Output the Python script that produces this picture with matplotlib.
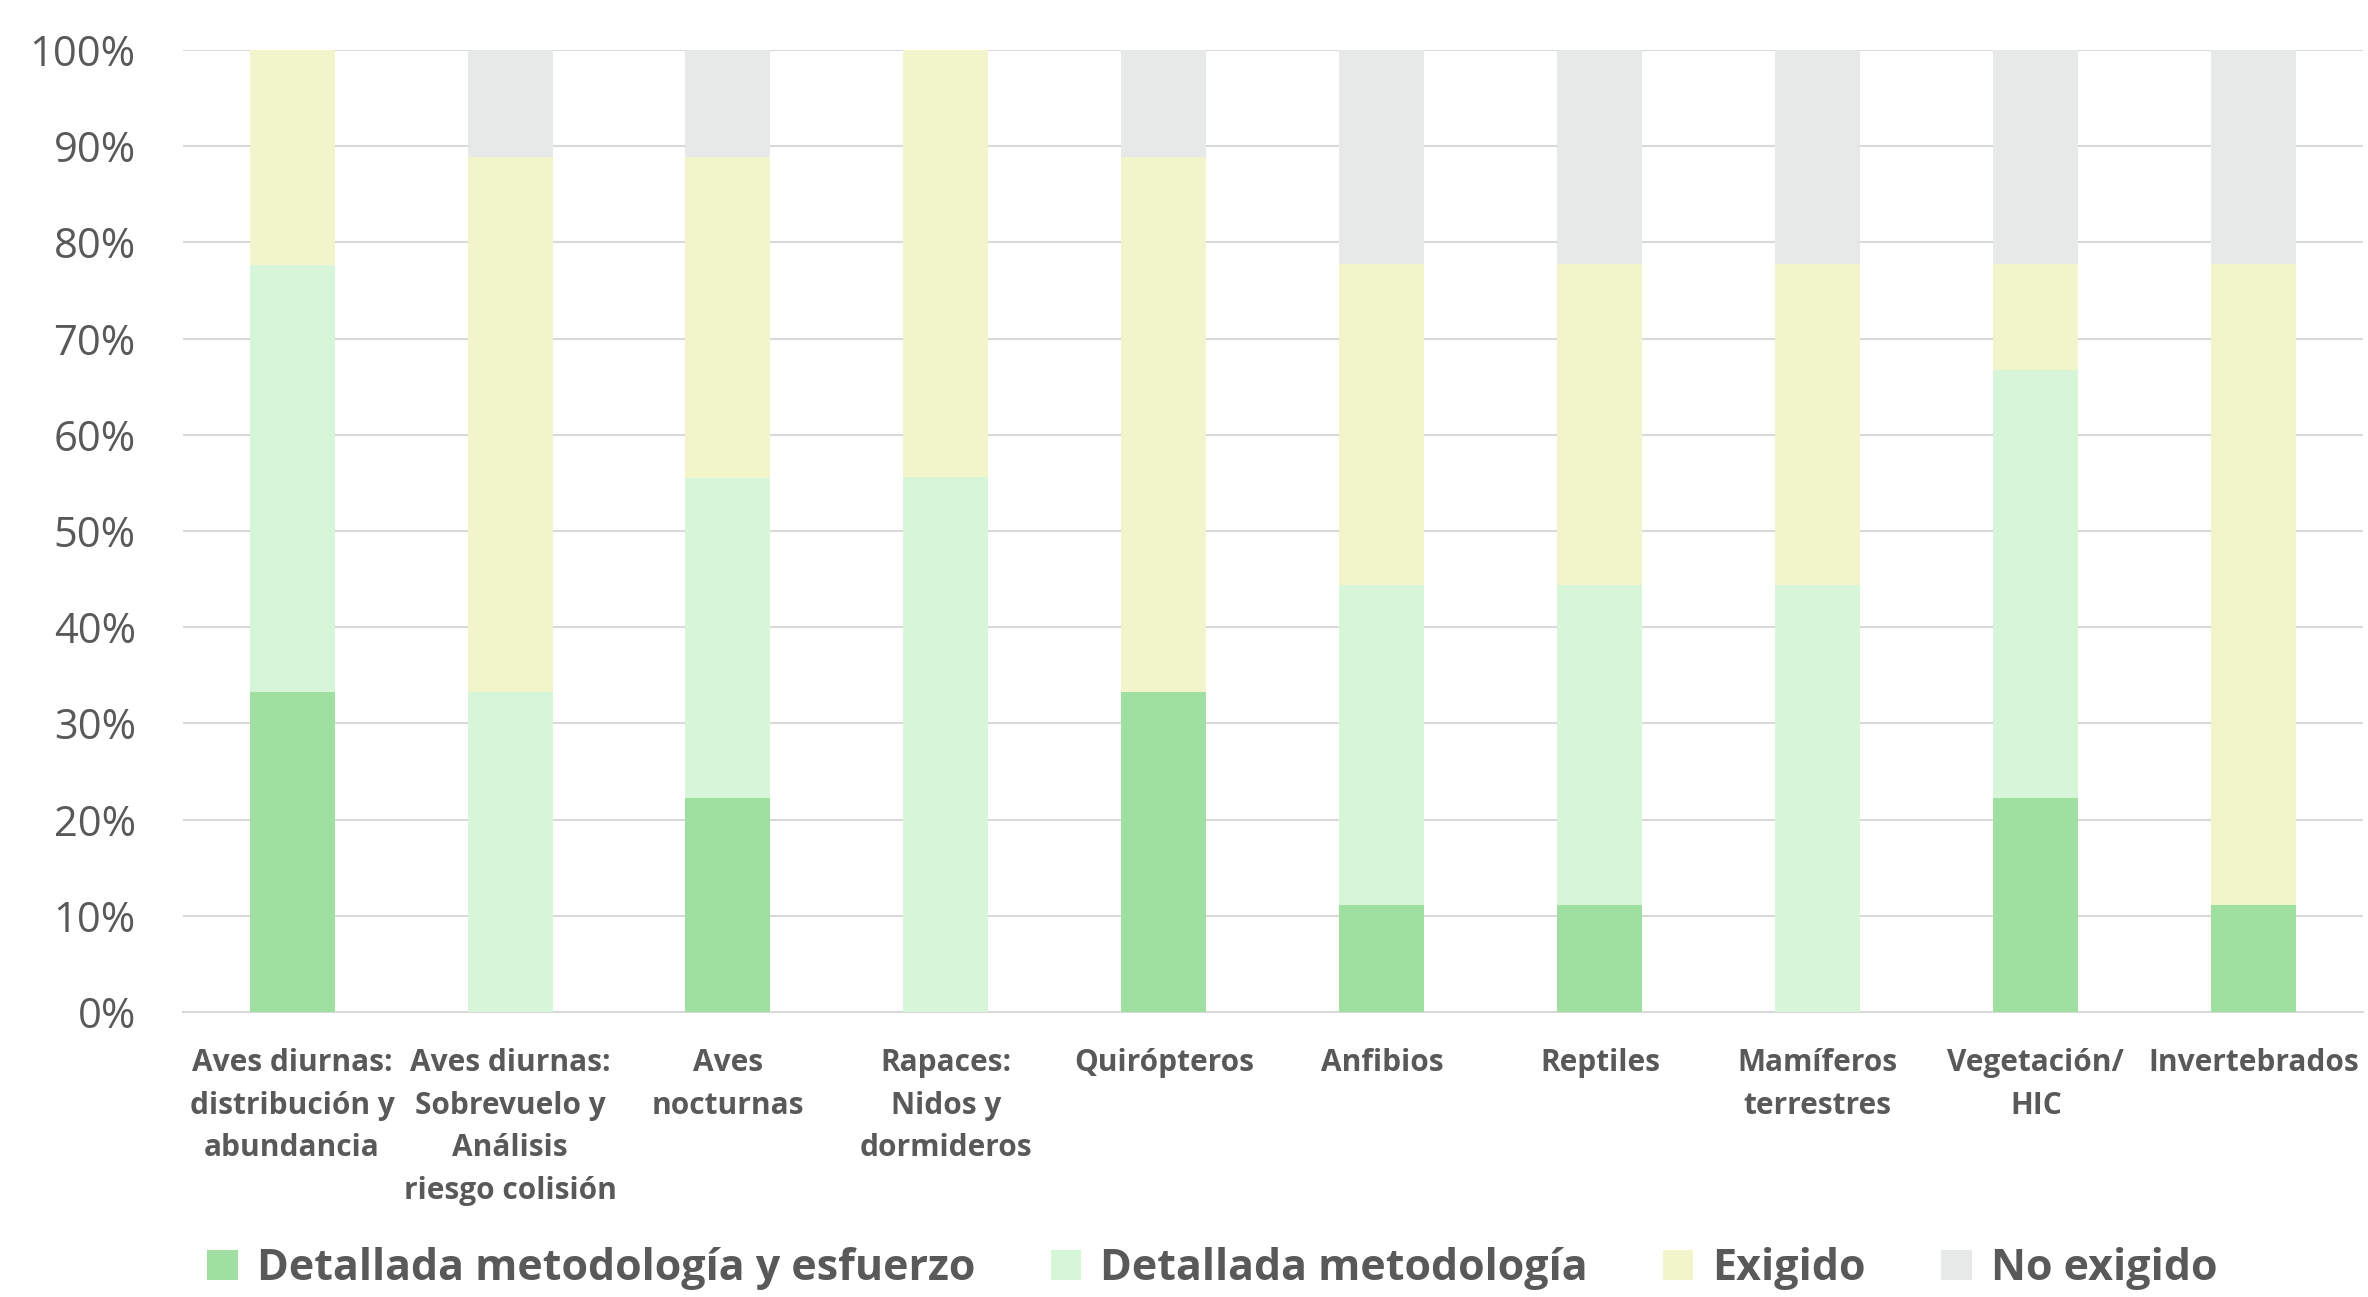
import numpy as np
import matplotlib.pyplot as plt
from matplotlib.patches import Patch

# categories and shares (% of studies)
categories = ["Aves diurnas:\ndistribución y\nabundancia",
              "Aves diurnas:\nSobrevuelo y\nAnálisis\nriesgo colisión",
              "Aves\nnocturnas",
              "Rapaces:\nNidos y\ndormideros",
              "Quirópteros",
              "Anfibios",
              "Reptiles",
              "Mamíferos\nterrestres",
              "Vegetación/\nHIC",
              "Invertebrados"]
detallada_esfuerzo = [33.3, 0.0, 22.2, 0.0, 33.3, 11.1, 11.1, 0.0, 22.2, 11.1]
detallada_metodo   = [44.4, 33.3, 33.3, 55.6, 0.0, 33.3, 33.3, 44.4, 44.5, 0.0]
exigido            = [22.3, 55.6, 33.4, 44.4, 55.6, 33.4, 33.4, 33.4, 11.1, 66.7]
no_exigido         = [0.0, 11.1, 11.1, 0.0, 11.1, 22.2, 22.2, 22.2, 22.2, 22.2]

series_names = ["Detallada metodología y esfuerzo", "Detallada metodología",
                "Exigido", "No exigido"]
colors = ["#9FDF9F", "#D6F5D9", "#F2F5C9", "#E7E9E8"]
text_col = "#595959"
font = "Open Sans"

fig = plt.figure(figsize=(23.68, 12.97), dpi=100)
ax = fig.add_axes([0.0773, 0.2197, 0.9205, 0.7417])

x = np.arange(len(categories))
bottom = np.zeros(len(categories))
for vals, col in zip([detallada_esfuerzo, detallada_metodo, exigido, no_exigido], colors):
    ax.bar(x, vals, width=0.39, bottom=bottom, color=col, zorder=3)
    bottom += np.array(vals)

ax.set_xlim(-0.5, len(categories) - 0.5)
ax.set_ylim(0, 100)
ax.set_yticks(np.arange(0, 101, 10))
ax.set_yticklabels([f"{v}%" for v in range(0, 101, 10)], fontsize=30,
                   color=text_col, fontfamily=font)
ax.yaxis.grid(True, color="#D9D9D9", linewidth=1.5, zorder=0)
ax.tick_params(axis="y", length=0, pad=34)
ax.tick_params(axis="x", length=0, pad=26)
ax.set_xticks(x)
ax.set_xticklabels(categories, fontsize=21.5, fontweight="bold", color=text_col,
                   fontfamily=font, linespacing=1.55, va="top")
for s in ["top", "right", "left"]:
    ax.spines[s].set_visible(False)
ax.spines["bottom"].set_color("#D9D9D9")
ax.spines["bottom"].set_linewidth(1.5)

handles = [Patch(facecolor=c, edgecolor="none") for c in colors]
fig.legend(handles, series_names, loc="center", bbox_to_anchor=(0.512, 0.022),
           ncol=4, frameon=False, handlelength=0.7, handleheight=0.7,
           handletextpad=0.45, columnspacing=1.75,
           prop={"family": font, "weight": "bold", "size": 31},
           labelcolor=text_col)

fig.savefig("out.png", dpi=100)
